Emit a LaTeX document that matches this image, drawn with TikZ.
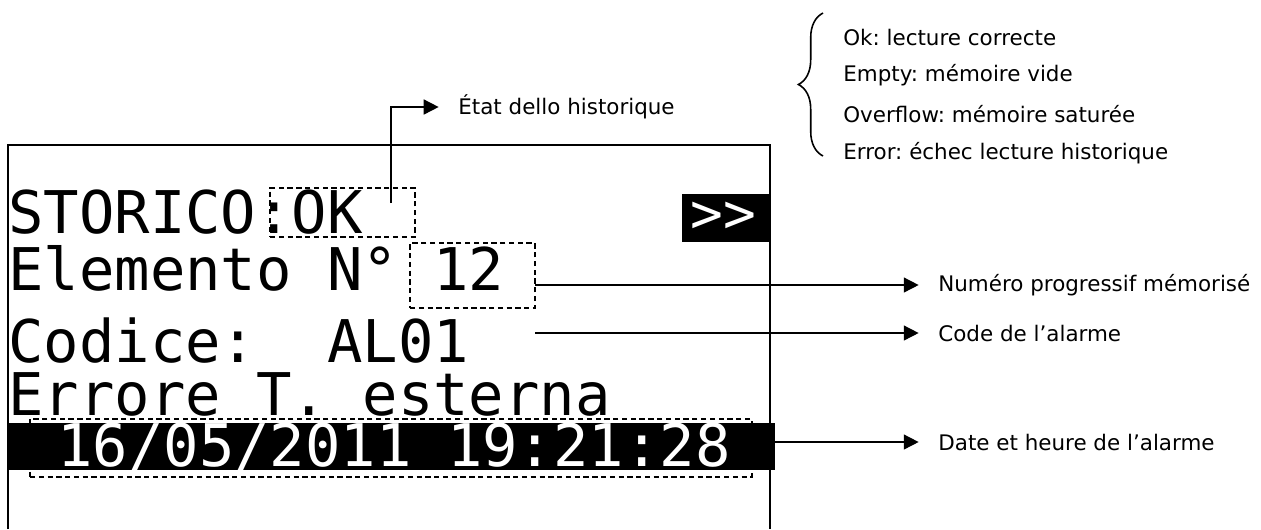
\documentclass[tikz,border=0pt]{standalone}
\usepackage{fontspec}
\setmainfont{DejaVu Sans}
\newfontfamily\lcdfont{DejaVu Sans Mono}
\usetikzlibrary{positioning, arrows.meta, decorations.pathreplacing, fit}
\frenchspacing

\begin{document}
\begin{tikzpicture}[
  x=0.02cm, y=-0.02cm,
  >={Triangle[length=8.5pt, width=8.5pt]},
  lcd/.style={font=\lcdfont\fontsize{33.5}{40}\selectfont, inner sep=0pt, anchor=base west},
  lcdinv/.style={lcd, text=white},
  dashbox/.style={draw, dashed, dash pattern=on 3pt off 2pt, line width=0.8pt, inner sep=0pt},
  note/.style={font=\fontsize{12.2}{14}\selectfont, anchor=west, inner sep=0pt},
  lead/.style={->, line width=0.9pt},
]
\useasboundingbox (0,0) rectangle (1261,529);

% --- Display frame ---
\draw[line width=1.2pt] (8,529) |- (770,145) -- (770,529);
\fill (682,194) rectangle (770,242);
\fill (8,423) rectangle (775,470);

% --- Display lines ---
\node[lcd]    (storico) at (8,233)   {STORICO:OK};
\node[lcdinv, font=\lcdfont\fontsize{31}{36}\selectfont]
              (next)    at (690,232) {>>};
\node[lcd]    (elem)    at (8,290)   {Elemento N° 12};
\node[lcd]    (codice)  at (8,362)   {Codice:\ \ AL01};
\node[lcd]    (errore)  at (8,415)   {Errore T. esterna};
\node[lcdinv] (date)    at (57,466)  {16/05/2011 19:21:28};

% --- Marked fields ---
\node[dashbox, fit={(270,188) (415,237)}] (okbox)   {};
\node[dashbox, fit={(410,243) (535,308)}] (numbox)  {};
\node[dashbox, fit={(30,419) (752,477)}]  (datebox) {};

% --- Labels ---
\node[note] (etat)  at (458,107) {État dello historique};
\node[note] (num)   at (938,285) {Numéro progressif mémorisé};
\node[note] (code)  at (938,333) {Code de l’alarme};
\node[note] (heure) at (938,442) {Date et heure de l’alarme};

\node[note] (ok)    at (843,37)  {Ok: lecture correcte};
\node[note] (empty) at (843,75)  {Empty: mémoire vide};
\node[note] (over)  at (843,114) {Overflow: mémoire saturée};
\node[note] (err)   at (843,153) {Error: échec lecture historique};

% --- Leaders ---
\coordinate (okstart)   at (391,203);
\coordinate (numstart)  at (535,285);
\coordinate (codestart) at (535,333);
\coordinate (datestart) at (775,442);
\draw[lead] (okstart) |- ([xshift=-11pt]etat.west);
\draw[lead] (numstart) -- ([xshift=-11pt]num.west);
\draw[lead] (codestart) -- ([xshift=-11pt]code.west);
\draw[lead] (datestart) -- ([xshift=-11pt]heure.west);

% Brace for the states
\draw[decorate, decoration={brace, amplitude=14pt}, line width=0.9pt]
  (823,156) -- (823,13);

\end{tikzpicture}
\end{document}
